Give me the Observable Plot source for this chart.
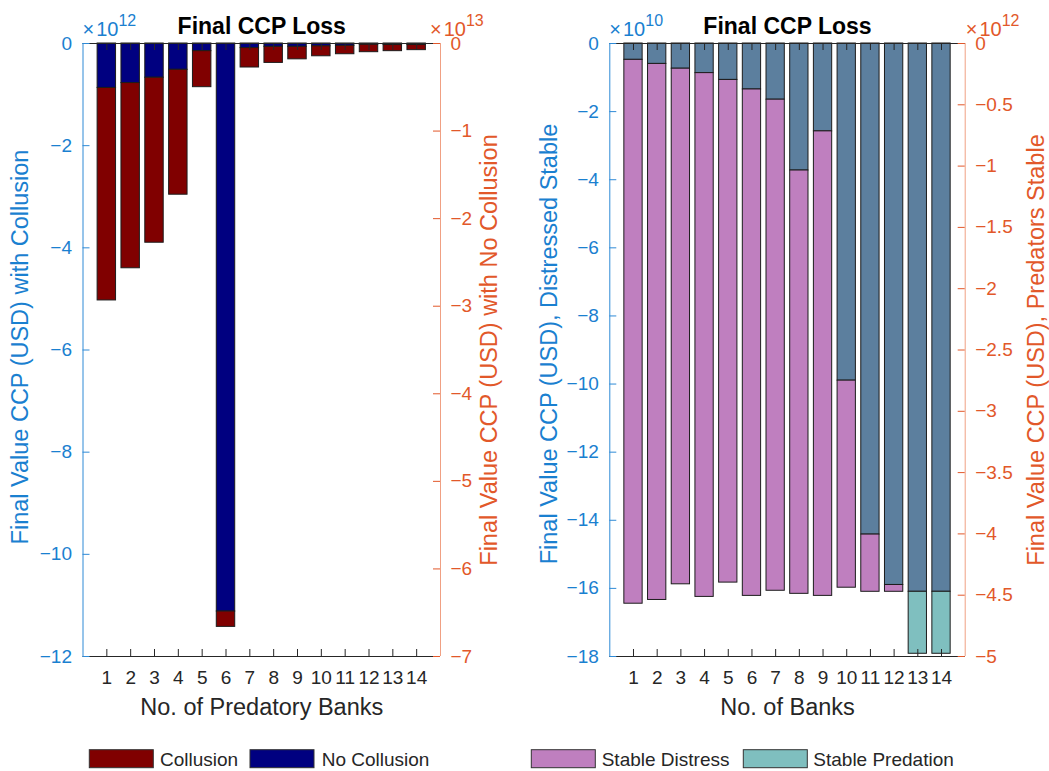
<!DOCTYPE html>
<html><head><meta charset="utf-8">
<script src="https://cdn.jsdelivr.net/npm/d3@7"></script>
<script src="https://cdn.jsdelivr.net/npm/@observablehq/plot@0.6"></script>
<style>
body{margin:0;background:#fff;font-family:"Liberation Sans",Arial,Helvetica,sans-serif;}
#root{position:relative;width:1049px;height:771px;overflow:hidden;background:#fff;}
.layer{position:absolute;top:0;}
.layer svg{overflow:visible;display:block;}
</style></head><body><div id="root"></div>
<script>
// ---------- data ----------
const banks = [1,2,3,4,5,6,7,8,9,10,11,12,13,14];

// Left panel (x10^12, left axis units)
const noCollusion = [-0.87,-0.775,-0.67,-0.515,-0.15,-11.12,-0.09,-0.065,-0.065,-0.055,-0.045,-0.025,-0.03,-0.03];
const collusion   = [-5.03,-4.40,-3.90,-2.96,-0.855,-11.42,-0.47,-0.38,-0.31,-0.25,-0.21,-0.17,-0.15,-0.13];
const leftYTicks  = [0,-2,-4,-6,-8,-10,-12];
const leftY2Ticks = [0,-1,-2,-3,-4,-5,-6,-7];

// Right panel (x10^10, left axis units)
const distressedStable = [-0.48,-0.6,-0.74,-0.87,-1.07,-1.35,-1.65,-3.73,-2.58,-9.9,-14.42,-15.9,-16.1,-16.1];
const stableDistress   = [-16.45,-16.34,-15.88,-16.25,-15.83,-16.22,-16.07,-16.16,-16.22,-15.98,-16.1,-16.1,null,null];
const stablePredation  = [null,null,null,null,null,null,null,null,null,null,null,null,-17.92,-17.92];
const rightYTicks  = [0,-2,-4,-6,-8,-10,-12,-14,-16,-18];
const rightY2Ticks = [0,-0.5,-1,-1.5,-2,-2.5,-3,-3.5,-4,-4.5,-5];

const leftSeries  = ["Collusion","No Collusion"];
const leftColors  = ["#800000","#000080"];
const rightSeries = ["Distressed","Stable Distress","Stable Predation"];
const rightColors = ["#5c7f9e","#bf7fbf","#7fbfbf"];

// ---------- styles ----------
const FONT = '"Liberation Sans", Arial, Helvetica, sans-serif';
const BLUE = "#1a80d0", BLUE_LINE = "#2e8ad6";
const ORANGE = "#e2582a", ORANGE_LINE = "#f0a083";
const DARK = "#262626";
const H = 720, MT = 43, MB = 64, PH = H - MT - MB;
const TICK_FS = 19, LABEL_FS = 23.5;

// ---------- rows ----------
const leftRows = [];
banks.forEach((b,i) => {
  leftRows.push({bank:b, y1:0, y2:noCollusion[i], series:"No Collusion"});
  leftRows.push({bank:b, y1:noCollusion[i], y2:collusion[i], series:"Collusion"});
});
const rightRows = [];
banks.forEach((b,i) => {
  rightRows.push({bank:b, y1:0, y2:distressedStable[i], series:"Distressed"});
  if (stableDistress[i] != null) rightRows.push({bank:b, y1:distressedStable[i], y2:stableDistress[i], series:"Stable Distress"});
  if (stablePredation[i] != null) rightRows.push({bank:b, y1:distressedStable[i], y2:stablePredation[i], series:"Stable Predation"});
});

function addExp(svg, x, base, sup, color) {
  const t = d3.select(svg).append("text")
    .attr("x", x).attr("y", 35.5).attr("text-anchor", "start")
    .attr("fill", color)
    .style("font-size", "20px").style("font-family", FONT).style("text-anchor", "start");
  t.append("tspan").text("\u00d7");
  t.append("tspan").attr("dx", 2).text(base);
  t.append("tspan").attr("dy", -10).style("font-size", "16px").text(sup);
}

function panel(cfg) {
  const plotW = cfg.width - cfg.ml - cfg.mr;
  const div = document.createElement("div");
  div.className = "layer";
  div.style.left = cfg.left + "px";
  div.style.width = cfg.width + "px";
  div.style.height = H + "px";

  const main = Plot.plot({
    width: cfg.width, height: H,
    marginLeft: cfg.ml, marginRight: cfg.mr, marginTop: MT, marginBottom: MB,
    x: {domain: [0, 15], axis: null},
    y: {domain: cfg.yDomain, axis: null},
    color: {domain: cfg.colorDomain, range: cfg.colorRange},
    style: {fontFamily: FONT, background: "transparent", overflow: "visible"},
    marks: [
      Plot.rect(cfg.rows, {x1: d => d.bank - 0.5, x2: d => d.bank + 0.5, y1: "y1", y2: "y2",
        fill: "series", stroke: "#1c1c1c", strokeWidth: 1, insetLeft: 2.7, insetRight: 2.7}),
      Plot.ruleY([cfg.yDomain[1]], {stroke: DARK, strokeWidth: 1}),
      Plot.ruleY([cfg.yDomain[0]], {stroke: DARK, strokeWidth: 1}),
      Plot.ruleX([0], {stroke: BLUE_LINE, strokeWidth: 1}),
      Plot.tickX(banks, {x: d => d, stroke: DARK, insetTop: PH - 7}),
      Plot.tickX(banks, {x: d => d, stroke: DARK, insetBottom: PH - 7}),
      Plot.tickY(cfg.yTicks, {y: d => d, stroke: BLUE_LINE, insetRight: plotW - 7}),
      Plot.axisX({ticks: banks, tickSize: 0, tickPadding: 13.5, fontSize: TICK_FS, color: DARK, label: null, tickFormat: d3.format("d")}),
      Plot.axisY({ticks: cfg.yTicks, tickSize: 0, tickPadding: 11, fontSize: TICK_FS, color: BLUE, label: null, tickFormat: d3.format("")}),
      Plot.text(["Final CCP Loss"], {text: d => d, frameAnchor: "top", lineAnchor: "middle", dy: -17, fontSize: 23, fontWeight: "bold", fill: "#000"}),
      Plot.text([cfg.xLabel], {text: d => d, frameAnchor: "bottom", lineAnchor: "middle", dy: 50.5, fontSize: LABEL_FS, fill: DARK}),
      Plot.text([cfg.leftLabel], {text: d => d, frameAnchor: "left", textAnchor: "middle", lineAnchor: "middle", rotate: -90, dx: cfg.leftDx, dy: cfg.leftDy, fontSize: LABEL_FS, fill: BLUE})
    ]
  });
  addExp(main, cfg.ml, "10", cfg.leftExp, BLUE);

  const over = Plot.plot({
    width: cfg.width, height: H,
    marginLeft: cfg.ml, marginRight: cfg.mr, marginTop: MT, marginBottom: MB,
    x: {domain: [0, 15], axis: null},
    y: {domain: cfg.y2Domain, axis: null},
    style: {fontFamily: FONT, background: "transparent", overflow: "visible"},
    marks: [
      Plot.ruleX([15], {stroke: ORANGE_LINE, strokeWidth: 1}),
      Plot.tickY(cfg.y2Ticks, {y: d => d, stroke: ORANGE, insetLeft: plotW - 7}),
      Plot.axisY({anchor: "right", ticks: cfg.y2Ticks, tickSize: 0, tickPadding: 10, fontSize: TICK_FS, color: ORANGE, label: null, tickFormat: d3.format("")}),
      Plot.text([cfg.rightLabel], {text: d => d, frameAnchor: "right", textAnchor: "middle", lineAnchor: "middle", rotate: -90, dx: cfg.rightDx, fontSize: LABEL_FS, fill: ORANGE})
    ]
  });
  addExp(over, cfg.width - cfg.mr + cfg.rExpDx, "10", cfg.rightExp, ORANGE);

  main.style.position = "absolute"; main.style.left = "0px"; main.style.top = "0px";
  over.style.position = "absolute"; over.style.left = "0px"; over.style.top = "0px";
  div.appendChild(main);
  div.appendChild(over);
  return div;
}

const root = document.getElementById("root");
root.appendChild(panel({
  left: 0, width: 525, ml: 82.5, mr: 85,
  yDomain: [-12, 0], yTicks: leftYTicks, y2Domain: [-7, 0], y2Ticks: leftY2Ticks,
  rows: leftRows, colorDomain: leftSeries, colorRange: leftColors,
  xLabel: "No. of Predatory Banks",
  leftLabel: "Final Value CCP (USD) with Collusion", leftDx: -62.5, leftDy: -3,
  rightLabel: "Final Value CCP (USD) with No Collusion", rightDx: 49,
  leftExp: "12", rightExp: "13", rExpDx: -10
}));
root.appendChild(panel({
  left: 525, width: 524, ml: 84.3, mr: 84.3,
  yDomain: [-18, 0], yTicks: rightYTicks, y2Domain: [-5, 0], y2Ticks: rightY2Ticks,
  rows: rightRows, colorDomain: rightSeries, colorRange: rightColors,
  xLabel: "No. of Banks",
  leftLabel: "Final Value CCP (USD), Distressed Stable", leftDx: -60, leftDy: -6,
  rightLabel: "Final Value CCP (USD), Predators Stable", rightDx: 71.5,
  leftExp: "10", rightExp: "12", rExpDx: 1
}));

// ---------- legend ----------
const legendItems = [
  {label: "Collusion", color: leftColors[0], sx: 89.3, tx: 160},
  {label: "No Collusion", color: leftColors[1], sx: 250, tx: 321.7},
  {label: "Stable Distress", color: rightColors[1], sx: 531.3, tx: 601.7},
  {label: "Stable Predation", color: rightColors[2], sx: 743.3, tx: 813.3}
];
const leg = d3.select(root).append("svg")
  .attr("width", 1049).attr("height", 771)
  .style("position", "absolute").style("left", "0px").style("top", "0px")
  .style("pointer-events", "none");
leg.selectAll("rect").data(legendItems).join("rect")
  .attr("x", d => d.sx).attr("y", 749.7).attr("width", 64).attr("height", 18)
  .attr("fill", d => d.color).attr("stroke", "#333").attr("stroke-width", 1);
leg.selectAll("text").data(legendItems).join("text")
  .attr("x", d => d.tx).attr("y", 765.7).style("font-size", "19px").style("font-family", FONT)
  .attr("fill", DARK).text(d => d.label);
</script></body></html>
